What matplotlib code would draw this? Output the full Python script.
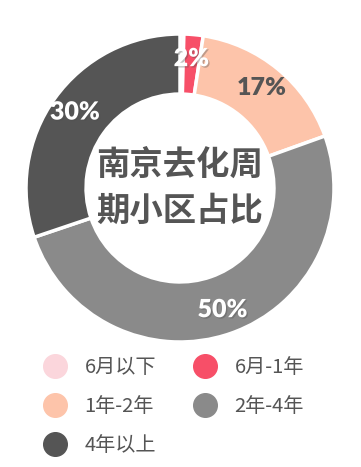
import matplotlib.pyplot as plt
import matplotlib.patheffects as pe
from matplotlib.lines import Line2D
import numpy as np

plt.rcParams['font.family'] = ['Noto Sans CJK SC', 'DejaVu Sans']

# 数据
labels = ['6月以下', '6月-1年', '1年-2年', '2年-4年', '4年以上']
values = [0.4, 2, 17, 50, 30]
pct_text = ['', '2%', '17%', '50%', '30%']
colors = ['#fbd6dc', '#f74f68', '#fdc4aa', '#8a8a8a', '#555555']
label_colors = ['white', 'white', '#555555', 'white', 'white']

fig = plt.figure(figsize=(3.61, 4.67), dpi=100)
cx, cy, r = 180, 188, 154
ax = fig.add_axes([(cx - r) / 361, 1 - (cy + r) / 467, 2 * r / 361, 2 * r / 467])

wedges, _ = ax.pie(values, colors=colors, startangle=90, counterclock=False,
                   radius=1.0, wedgeprops=dict(width=0.39, edgecolor='white', linewidth=2.5))
ax.set_aspect('equal')
ax.set_xlim(-1, 1)
ax.set_ylim(-1, 1)
ax.axis('off')

# 百分比标签
total = sum(values)
cum = 0
for v, t, c in zip(values, pct_text, label_colors):
    mid = cum + v / 2
    cum += v
    if not t:
        continue
    ang = np.deg2rad(90 - 360 * mid / total)
    rr = 0.84
    effects = [pe.withSimplePatchShadow(offset=(1, -1), alpha=0.35)] if c == 'white' else []
    ax.text(rr * np.cos(ang), rr * np.sin(ang), t, ha='center', va='center',
            fontsize=18, fontweight='heavy', color=c, fontstretch='condensed',
            family=['Lato', 'DejaVu Sans'],
            path_effects=effects)

# 中心标题
ax.text(0, 0.0, '南京去化周\n期小区占比', ha='center', va='center', fontsize=24,
        fontweight='bold', color='#555555', linespacing=1.5)

# 图例
order = [0, 2, 4, 1, 3]
handles = [Line2D([], [], marker='o', linestyle='', markersize=17,
                  markerfacecolor=colors[i], markeredgecolor=colors[i]) for i in order]
fig.legend(handles, [labels[i] for i in order], ncol=2, loc='upper left',
           bbox_to_anchor=(24 / 361, 1 - 339 / 467), frameon=False,
           fontsize=14.5, labelcolor='#555555', handletextpad=0.8,
           columnspacing=1.8, labelspacing=0.9, handlelength=1.3)

plt.savefig('out.png', dpi=100)
